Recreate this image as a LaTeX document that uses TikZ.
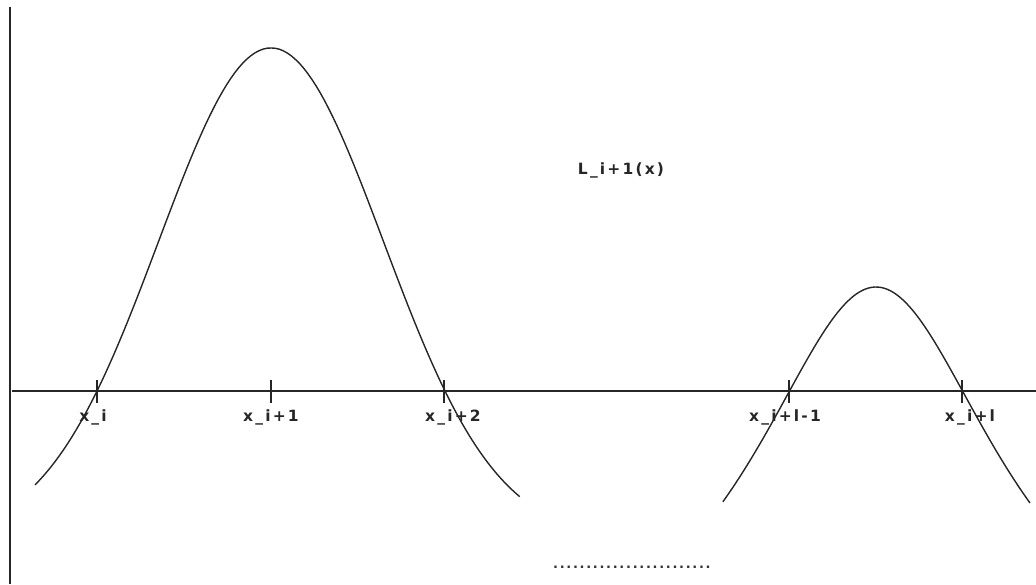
\documentclass[tikz,border=0pt]{standalone}
\usepackage{fontspec}
\newfontfamily\lblfont[LetterSpace=14]{DejaVu Sans Bold}
\newfontfamily\dotfont[LetterSpace=13]{DejaVu Sans Bold}
\begin{document}
\begin{tikzpicture}[x=1pt,y=-1pt,
  axis/.style={line width=1.8pt, black!85},
  curve/.style={line width=1.4pt, black!85, line join=round},
  tick/.style={line width=1.4pt, black!85},
  lbl/.style={font=\lblfont\fontsize{15.5}{17}\selectfont, inner sep=0pt, black!85}]
\useasboundingbox (0,0) rectangle (1036,584);
% axes
\coordinate (vtop) at (10,7);
\coordinate (vbot) at (10,584);
\coordinate (hl) at (12,391);
\coordinate (hr) at (1036,391);
\draw[axis] (vtop) -- (vbot);
\draw[axis] (hl) -- (hr);
% ticks
\foreach \n/\xx in {t0/97, t1/271, t2/444, t3/789, t4/962}{
  \coordinate (\n a) at (\xx,380);
  \coordinate (\n b) at (\xx,403);
  \draw[tick] (\n a) -- (\n b);
}
% curves
\draw[curve] plot[domain=-1.356:1.43, samples=120, variable=\u]
  ({271+174*\u},{391-343*(exp(-1.2*\u*\u)-exp(-1.2))/(1-exp(-1.2))});
\draw[curve] plot[domain=-1.77:1.78, samples=100, variable=\u]
  ({876+86.5*\u},{391-104*(1-\u*\u)/(1+0.32*\u*\u)});
% labels
\node[lbl] (L) at (621,170) {L\_i+1(x)};
\node[lbl] (x0) at (93,417) {x\_i};
\node[lbl] (x1) at (271,417) {x\_i+1};
\node[lbl] (x2) at (453,417) {x\_i+2};
\node[lbl] (x3) at (785,417) {x\_i+l-1};
\node[lbl] (x4) at (970,417) {x\_i+l};
\node[font=\dotfont\fontsize{13}{15}\selectfont, inner sep=0pt, anchor=base west, black!80] (dots) at (553,568) {........................};
\end{tikzpicture}
\end{document}
